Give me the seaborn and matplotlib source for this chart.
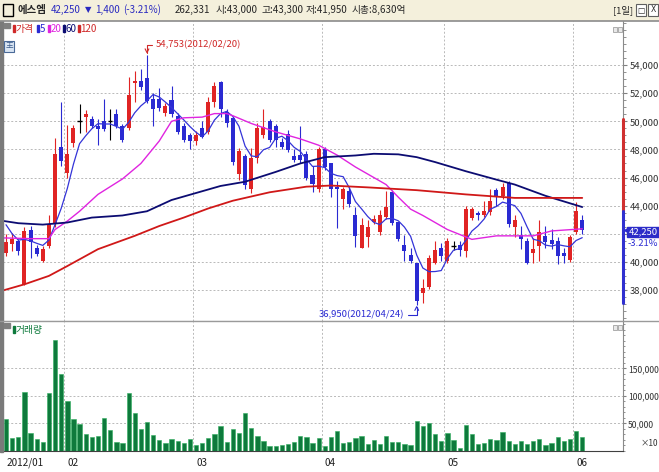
import numpy as np
import pandas as pd
import seaborn as sns
import matplotlib.pyplot as plt
import matplotlib.ticker as mticker
from matplotlib.patches import Rectangle
from matplotlib.transforms import blended_transform_factory

# daily candles, 2012/01/16 .. 2012/06/04
opens = [40600, 41300, 41500, 38400, 42250, 41000, 40050, 41150, 42700, 48150,
         46300, 48450, 50000, 50300, 50200, 49650, 50000, 50000, 50500, 49650,
         49500, 52750, 52900, 53100, 51600, 51600, 50600, 51500, 50400, 49700,
         49050, 48600, 49500, 49250, 51400, 52800, 50650, 50250, 46250, 47550,
         45200, 47400, 49000, 50000, 49650, 48550, 49100, 47550, 47600, 47700,
         46150, 45200, 48050, 47000, 45300, 44500, 45050, 43350, 41000, 41800,
         42800, 42100, 43200, 44950, 42800, 41200, 40500, 39900, 37750, 38200,
         39950, 40950, 40050, 41150, 41200, 40800, 43100, 43450, 43350, 43550,
         45100, 44700, 45600, 42450, 41900, 41500, 40650, 41150, 41850, 41550,
         41450, 40650, 40150, 42150, 43000]
highs = [42000, 42050, 41600, 42500, 42550, 41200, 41100, 43300, 48800, 51400,
         49750, 49750, 51200, 50800, 50400, 50200, 51600, 50850, 50900, 49800,
         53150, 53550, 53750, 54753, 52000, 52350, 51300, 52500, 50600, 49900,
         49200, 49300, 50050, 51750, 52800, 52850, 50900, 50400, 48100, 47700,
         48100, 49900, 50900, 50200, 49800, 48800, 49350, 48050, 49650, 47900,
         46850, 48150, 48150, 47000, 45750, 45350, 45300, 43900, 43100, 43000,
         43300, 43700, 45050, 45100, 42850, 41900, 40950, 39900, 38750, 40500,
         41500, 41350, 41700, 41500, 41450, 44000, 43900, 43650, 44350, 45200,
         45250, 45600, 45750, 43300, 42550, 41700, 41700, 42950, 42550, 42350,
         41800, 41000, 41900, 44250, 43300]
lows = [40450, 40800, 40500, 38350, 40300, 40400, 40000, 40950, 42500, 46800,
        46000, 48200, 49150, 49250, 49500, 48350, 49300, 48650, 49500, 48550,
        49350, 51400, 52200, 51300, 49700, 50700, 50400, 50300, 49100, 48550,
        48000, 48300, 48800, 49100, 51000, 50300, 49600, 46900, 45800, 45150,
        44900, 47000, 48800, 48500, 48150, 48000, 47800, 47100, 47000, 45800,
        44950, 44950, 46550, 44600, 42400, 43750, 43900, 41050, 40950, 41050,
        42700, 41900, 43050, 42600, 41450, 40050, 39950, 36950, 37100, 38100,
        39850, 40050, 39900, 40850, 40450, 40350, 42950, 42950, 43200, 43300,
        44000, 44500, 42450, 41750, 40900, 39850, 39950, 40050, 40950, 40900,
        39850, 39950, 40000, 42000, 41950]
closes = [41400, 41650, 40800, 42200, 41400, 40550, 40900, 42700, 47700, 47150,
          47650, 49550, 50000, 50500, 49650, 49450, 49450, 50000, 49650, 48650,
          51850, 52900, 52450, 51450, 50900, 50950, 51100, 50500, 49250, 48700,
          48600, 49050, 48900, 51400, 52500, 50900, 49850, 47100, 47900, 45450,
          47400, 49550, 49600, 48700, 48700, 48150, 47950, 47250, 47250, 45950,
          45550, 48050, 46750, 45200, 45150, 45150, 44100, 41850, 42600, 42450,
          43050, 43300, 43900, 42750, 41600, 40800, 40050, 37200, 38150, 40300,
          40850, 40400, 41450, 41150, 40850, 43750, 43750, 43300, 43600, 44350,
          44700, 45300, 42700, 42950, 41600, 39900, 40900, 42150, 41400, 41250,
          40450, 40450, 41800, 43650, 42250]
volumes = [57600, 23100, 24900, 107300, 32700, 21300, 16400, 104900, 201800, 139400,
           90400, 57600, 49100, 30400, 24900, 26700, 59400, 37600, 16400, 14000,
           104900, 68500, 39400, 52200, 28500, 19500, 14000, 21300, 17600, 14000,
           21300, 10400, 14000, 23100, 30400, 44900, 15800, 39400, 32200, 68500,
           41300, 26700, 17600, 8500, 8500, 10400, 12200, 15800, 27300, 24800,
           15200, 23000, 9100, 26100, 36400, 15200, 17000, 24200, 27300, 12700,
           20000, 12700, 27300, 17000, 17000, 12700, 10900, 54500, 46100, 51500,
           30900, 18800, 33300, 20000, 4800, 47300, 30900, 12700, 15200, 21200,
           20000, 34500, 18200, 12700, 18800, 12700, 18800, 21800, 10900, 15200,
           26100, 18800, 21800, 36400, 26233]

# moving averages
ma5 = [42640, 42000, 41550, 41600, 41490, 41320, 41170, 41550, 42650, 43800,
       45220, 46950, 48410, 48970, 49470, 49830, 49810, 49810, 49640, 49440,
       49920, 50610, 51100, 51460, 51910, 51730, 51370, 50980, 50540, 50100,
       49630, 49220, 48900, 49330, 50090, 50550, 50710, 50350, 49650, 48240,
       47540, 47480, 47980, 48140, 48790, 48940, 48620, 48150, 47860, 47310,
       46790, 46810, 46710, 46300, 46140, 46060, 45270, 44290, 43770, 43230,
       42810, 42650, 43060, 43090, 42920, 42470, 41820, 40480, 39560, 39300,
       39310, 39380, 40230, 40830, 40940, 41520, 42190, 42560, 43050, 43750,
       43940, 44250, 44130, 44000, 43450, 42490, 41610, 41500, 41190, 41120,
       41230, 41140, 41070, 41520, 41720]
ma20_idx = [-1, 0, 4, 7, 8, 10, 12, 15, 19, 22, 25, 27, 29, 32, 34, 36, 37, 40,
            44, 48, 51, 54, 57, 60, 62, 64, 66, 68, 72, 76, 80, 86, 89, 94]
ma20_val = [41700, 41700, 41650, 41650, 42300, 42900, 43600, 44800, 45900, 47000,
            48600, 50000, 50250, 50300, 50550, 50550, 50400, 49850, 49250, 48750,
            48300, 47600, 46750, 46000, 45500, 44600, 43750, 43300, 42300, 41600,
            41850, 41850, 42200, 42350]
ma60_idx = [-1, 2, 6, 10, 14, 19, 23, 27, 31, 35, 39, 44, 48, 52, 57, 60, 64, 67,
            70, 75, 80, 83, 88, 94]
ma60_val = [42950, 42750, 42650, 42800, 43150, 43300, 43600, 44400, 44900, 45400,
            45700, 46400, 47000, 47450, 47570, 47690, 47650, 47450, 47100, 46450,
            45850, 45500, 44700, 43900]
ma120_idx = [-1, 3, 7, 10, 15, 21, 25, 29, 33, 37, 43, 49, 53, 59, 67, 75, 83, 94]
ma120_val = [37900, 38400, 39000, 39700, 40900, 41850, 42550, 43150, 43800, 44350,
             44950, 45350, 45430, 45300, 45100, 44800, 44550, 44550]

month_start = [0, 10, 31, 52, 72, 93]
month_labels = ['2012/01', '02', '03', '04', '05', '06']
price_ticks = [38000, 40000, 42000, 44000, 46000, 48000, 50000, 52000, 54000]
vol_ticks = [50000, 100000, 150000]
prev_close = 43650
upper_limit, lower_limit = 50200, 37100

UP = '#e02424'
DOWN = '#2a2ad2'
GRID = '#b9b9b9'

sns.set_style('white')
plt.rcParams['font.family'] = ['Noto Sans CJK KR', 'DejaVu Sans']
plt.rcParams['axes.unicode_minus'] = False

W, H = 659, 472
fig = plt.figure(figsize=(W / 100, H / 100), dpi=100)
fig.patch.set_facecolor('white')


def fx(x):
    return x / W


def fy(y):
    return 1 - y / H


ax = fig.add_axes([fx(3), fy(321), fx(623) - fx(3), fy(21) - fy(321)])
axv = fig.add_axes([fx(3), fy(451), fx(623) - fx(3), fy(322) - fy(451)])
xs = np.arange(len(closes))
for a in (ax, axv):
    a.set_xlim(-0.49, 100.65)
    a.set_facecolor('white')
ax.set_ylim(35790, 57140)
axv.set_ylim(0, 234500)

# grids
grid_x = [m - 0.5 for m in month_start]
for a in (ax, axv):
    for g in grid_x[1:]:
        a.axvline(g, color=GRID, lw=0.7, ls=(0, (2, 2)), zorder=0)
for p in price_ticks:
    ax.axhline(p, color=GRID, lw=0.7, ls=(0, (2, 2)), zorder=0)
for v in vol_ticks:
    axv.axhline(v, color=GRID, lw=0.7, ls=(0, (2, 2)), zorder=0)

# candles
for i in xs:
    o, h, l, c = opens[i], highs[i], lows[i], closes[i]
    col = UP if c > o else (DOWN if c < o else 'black')
    ax.vlines(i, l, h, color=col, lw=0.8, zorder=2)
    if c == o:
        ax.hlines(c, i - 0.35, i + 0.35, color='black', lw=1.0, zorder=3)
    else:
        ax.bar(i, abs(c - o), bottom=min(o, c), width=0.66, color=col,
               linewidth=0, zorder=3)

# moving averages
sns.lineplot(x=xs, y=ma5, ax=ax, color='#3434d8', lw=0.9, zorder=4)
sns.lineplot(x=ma20_idx, y=ma20_val, ax=ax, color='#e024e0', lw=1.0, zorder=4)
sns.lineplot(x=ma60_idx, y=ma60_val, ax=ax, color='#0c0c72', lw=1.3, zorder=4)
sns.lineplot(x=ma120_idx, y=ma120_val, ax=ax, color='#d01818', lw=1.3, zorder=4)

# high / low notes
ax.annotate('54,753(2012/02/20)', xy=(23, 54800), xytext=(24.4, 55430),
            color='#d02828', fontsize=6.8, va='center', ha='left',
            arrowprops=dict(arrowstyle='->', color='#d02828', lw=0.8,
                            shrinkA=0, shrinkB=0,
                            connectionstyle='angle,angleA=0,angleB=90'))
ax.annotate('36,950(2012/04/24)', xy=(67, 36900), xytext=(65.0, 36250),
            color='#2a2ad2', fontsize=6.8, va='center', ha='right',
            arrowprops=dict(arrowstyle='->', color='#2a2ad2', lw=0.8,
                            shrinkA=0, shrinkB=0,
                            connectionstyle='angle,angleA=0,angleB=90'))

# volume
axv.bar(xs, volumes, width=0.7, color='#0e7a3c', edgecolor='#2fae5e',
        linewidth=0.4, zorder=2)

# axes decoration
for a in (ax, axv):
    a.yaxis.tick_right()
    for s in ('left', 'top'):
        a.spines[s].set_visible(False)
    a.spines['right'].set_color('#8a8a8a')
    a.spines['right'].set_linewidth(0.8)
ax.spines['bottom'].set_color('#a0a0a0')
axv.spines['bottom'].set_color('#404040')
axv.spines['bottom'].set_linewidth(0.8)

last = closes[-1]
ax.set_xticks([])
ax.set_yticks(price_ticks)
# the current-price tag hides the 42,000 label
ax.set_yticklabels(['' if abs(p - last) < 1000 else f'{p:,}' for p in price_ticks],
                   fontsize=6.8, color='#303030')
ax.yaxis.set_minor_locator(mticker.MultipleLocator(500))
ax.tick_params(axis='y', which='major', length=3, pad=2, color='#808080')
ax.tick_params(axis='y', which='minor', length=2, color='#808080')

axv.set_yticks(vol_ticks)
axv.set_yticklabels([f'{v:,}' for v in vol_ticks], fontsize=6.2, color='#303030')
axv.yaxis.set_minor_locator(mticker.MultipleLocator(10000))
axv.tick_params(axis='y', which='major', length=2, pad=1.5, color='#808080')
axv.tick_params(axis='y', which='minor', length=1.5, color='#808080')
fig.text(fx(641), fy(444), '×10', fontsize=6, color='#303030',
         va='center', ha='left')

axv.set_xticks(grid_x)
axv.set_xticklabels([])
axv.tick_params(axis='x', length=3, color='#606060')
bt = blended_transform_factory(axv.transData, axv.transAxes)
for g, lab in zip(grid_x, month_labels):
    axv.text(g + 0.5, -0.09, lab, transform=bt, fontsize=7.2, color='#202020',
             ha='left', va='center')

# price limit bar and current price tag
rt = blended_transform_factory(ax.transAxes, ax.transData)
ax.plot([1.0, 1.0], [prev_close, upper_limit], transform=rt, color='#d03030',
        lw=2.2, clip_on=False, zorder=6)
ax.plot([1.0, 1.0], [lower_limit, prev_close], transform=rt, color='#3030d0',
        lw=2.2, clip_on=False, zorder=6)
ax.plot([1.006], [last], transform=rt, marker='<', color='#2a2ad2', ms=4,
        clip_on=False, zorder=7)
fig.patches.append(Rectangle((fx(627), fy(237)), fx(32), fy(227) - fy(237),
                             transform=fig.transFigure, color='#2c2cc8'))
fig.text(fx(643), fy(232), f'{last:,}', color='white', fontsize=6.8,
         ha='center', va='center')
chg = (last - prev_close) / prev_close * 100
fig.text(fx(658), fy(244), f'{chg:.2f}%', color='#2a2ad2', fontsize=6.8,
         ha='right', va='center')

# left border
fig.patches.append(Rectangle((0, fy(452)), fx(3), fy(20) - fy(452),
                             transform=fig.transFigure, color='#7a7a7a'))
# panel divider
fig.lines.append(plt.Line2D([0, 1], [fy(321), fy(321)], transform=fig.transFigure,
                            color='#9a9a9a', lw=1))

# header bar
fig.patches.append(Rectangle((0, fy(20)), 1, fy(0) - fy(20),
                             transform=fig.transFigure, color='#f4f0dc'))
fig.lines.append(plt.Line2D([0, 1], [fy(20.5), fy(20.5)], transform=fig.transFigure,
                            color='#8c8c8c', lw=1.2))
fig.patches.append(Rectangle((fx(3), fy(16)), fx(10), fy(4) - fy(16),
                             transform=fig.transFigure, fill=False,
                             edgecolor='black', lw=1))
hdr = 7
fig.text(fx(17), fy(10), '에스엠', fontsize=7.5, weight='bold', va='center')
fig.text(fx(51), fy(10), '42,250', fontsize=hdr, color='#2a2ac0', va='center')
fig.text(fx(85), fy(10), '▼', fontsize=6, color='#2a2ac0', va='center',
         family=['DejaVu Sans'])
fig.text(fx(95), fy(10), '1,400', fontsize=hdr, color='#2a2ac0', va='center')
fig.text(fx(123), fy(10), '(-3.21%)', fontsize=hdr, color='#2a2ac0', va='center')
fig.text(fx(175), fy(10), '262,331', fontsize=hdr, va='center')
fig.text(fx(216), fy(10), '시:43,000', fontsize=hdr, va='center')
fig.text(fx(261), fy(10), '고:43,300', fontsize=hdr, va='center')
fig.text(fx(306), fy(10), '저:41,950', fontsize=hdr, va='center')
fig.text(fx(352), fy(10), '시총:8,630억', fontsize=hdr, va='center')
fig.text(fx(613), fy(10), '[1일]', fontsize=6.8, va='center')
for bx, sym in ((636, '□'), (648, 'X')):
    fig.patches.append(Rectangle((fx(bx), fy(16)), fx(10), fy(4) - fy(16),
                                 transform=fig.transFigure, facecolor='white',
                                 edgecolor='#606060', lw=0.8))
    fig.text(fx(bx + 5), fy(10), sym, fontsize=5.5, ha='center', va='center',
             family=['DejaVu Sans'])

# legends
fig.patches.append(Rectangle((fx(4), fy(28)), fx(6), fy(23) - fy(28),
                             transform=fig.transFigure, color='#808080'))
leg = [(13, '가격', '#d02828'), (37, '5', '#2a2ad2'), (48, '20', '#e024e0'),
       (63, '60', '#0c0c72'), (78, '120', '#d02828')]
for lx, name, col in leg:
    fig.patches.append(Rectangle((fx(lx), fy(32)), fx(1.5), fy(25) - fy(32),
                                 transform=fig.transFigure, color=col))
    fig.text(fx(lx + 2.5), fy(29), name, fontsize=7, color=col, va='center')
fig.patches.append(Rectangle((fx(4), fy(52)), fx(10), fy(41) - fy(52),
                             transform=fig.transFigure, facecolor='#d8e4f2',
                             edgecolor='#4a6a98', lw=0.8))
fig.text(fx(9), fy(46.5), '王', fontsize=5.5, color='#3a5a8a', ha='center',
         va='center')

fig.patches.append(Rectangle((fx(4), fy(328)), fx(6), fy(323) - fy(328),
                             transform=fig.transFigure, color='#808080'))
fig.patches.append(Rectangle((fx(13), fy(333)), fx(1.5), fy(326) - fy(333),
                             transform=fig.transFigure, color='#0e7a3c'))
fig.text(fx(15.5), fy(330), '거래량', fontsize=7, color='#0e7a3c', va='center')

for iy in (29, 327):
    for bx in (613, 618):
        fig.patches.append(Rectangle((fx(bx), fy(iy + 3)), fx(4), fy(iy - 2) - fy(iy + 3),
                                     transform=fig.transFigure, facecolor='#e8e8e8',
                                     edgecolor='#909090', lw=0.5))

fig.savefig('out.png', dpi=100)
